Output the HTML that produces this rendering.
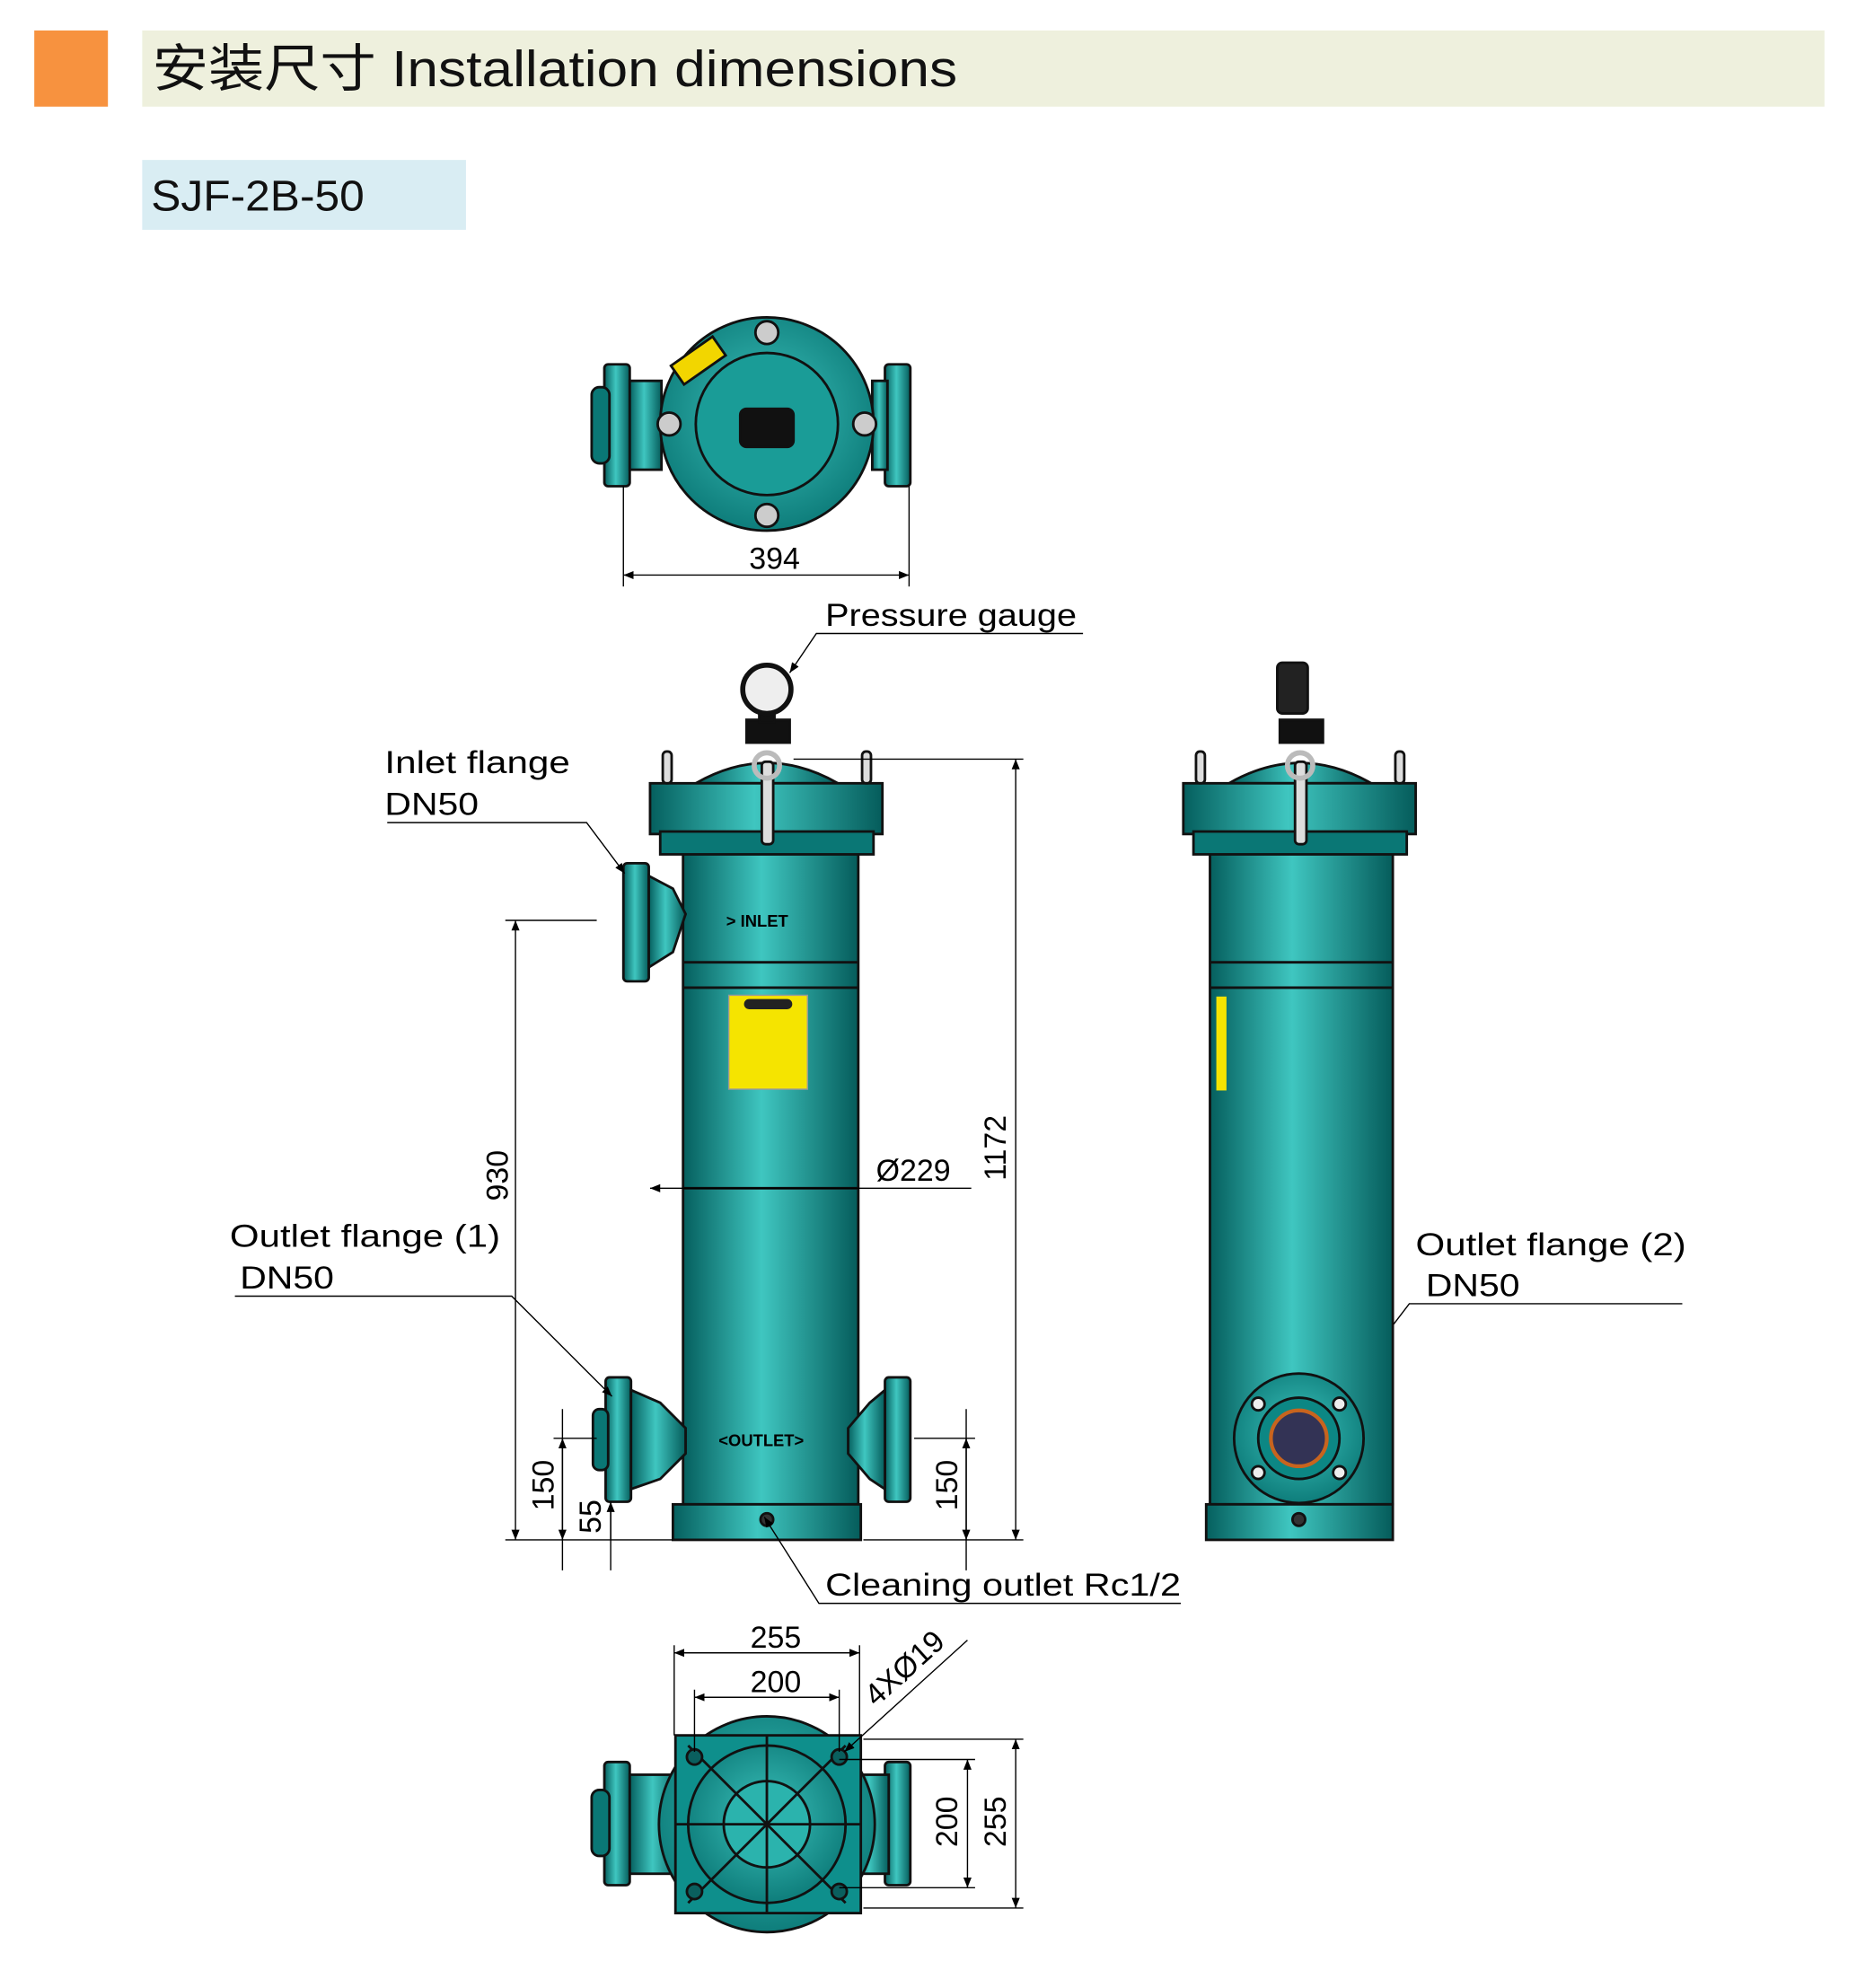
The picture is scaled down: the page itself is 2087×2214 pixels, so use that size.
<!DOCTYPE html>
<html><head><meta charset="utf-8"><style>
html,body{margin:0;padding:0;background:#fff;}
svg{display:block;}
text{font-family:"Liberation Sans","Noto Sans CJK SC",sans-serif;}
</style></head><body>
<svg width="2087" height="2214" viewBox="0 0 1476 1566" preserveAspectRatio="none" xmlns="http://www.w3.org/2000/svg">
<defs>
<linearGradient id="tg" x1="0" x2="1" y1="0" y2="0">
<stop offset="0" stop-color="#055f5e"/><stop offset="0.45" stop-color="#3fc6c0"/><stop offset="1" stop-color="#055c5b"/>
</linearGradient>
<radialGradient id="rg" cx="0.5" cy="0.45" r="0.6">
<stop offset="0" stop-color="#3cc2bc"/><stop offset="1" stop-color="#0a7775"/>
</radialGradient>
<marker id="ar" viewBox="0 0 10 10" refX="10" refY="5" markerWidth="8" markerHeight="8" orient="auto-start-reverse"><path d="M0,1 L10,5 L0,9 z" fill="#000"/></marker>
</defs>
<g stroke-width="1">
<rect x="27" y="24" width="58" height="60" fill="#f7923f"/>
<rect x="112" y="24" width="1325" height="60" fill="#eef0dd"/>
<text x="120" y="68" font-size="40" fill="#111" textLength="634" lengthAdjust="spacingAndGlyphs">安装尺寸 Installation dimensions</text>
<rect x="112" y="126" width="255" height="55" fill="#d9edf3"/>
<text x="119" y="166" font-size="34" fill="#111" textLength="168" lengthAdjust="spacingAndGlyphs">SJF-2B-50</text>

<!-- TOP VIEW -->
<g stroke="#111" stroke-width="2">
<rect x="476" y="287" width="20" height="96" rx="3" fill="url(#tg)"/>
<rect x="466" y="305" width="14" height="60" rx="6" fill="#0a7775"/>
<rect x="496" y="300" width="25" height="70" fill="url(#tg)"/>
<rect x="697" y="287" width="20" height="96" rx="3" fill="url(#tg)"/>
<rect x="687" y="300" width="12" height="70" fill="url(#tg)"/>
<circle cx="604" cy="334" r="84" fill="url(#rg)"/>
<circle cx="604" cy="334" r="56" fill="#1a9c97"/>
<rect x="583" y="322" width="42" height="30" rx="5" fill="#111"/>
<circle cx="604" cy="262" r="9" fill="#ccc"/><circle cx="604" cy="406" r="9" fill="#ccc"/>
<circle cx="527" cy="334" r="9" fill="#ccc"/><circle cx="681" cy="334" r="9" fill="#ccc"/>
<rect x="530" y="275" width="40" height="18" fill="#f2d600" transform="rotate(-35 550 284)"/>
</g>
<g stroke="#000" fill="none">
<line x1="491" y1="383" x2="491" y2="462"/><line x1="716" y1="383" x2="716" y2="462"/>
<line x1="491" y1="453" x2="716" y2="453" marker-start="url(#ar)" marker-end="url(#ar)"/>
</g>
<text x="610" y="448" font-size="24" text-anchor="middle">394</text>

<!-- FRONT VIEW -->
<g stroke="#111" stroke-width="2">
<rect x="538" y="672" width="138" height="513" fill="url(#tg)"/>
<line x1="538" y1="758" x2="676" y2="758"/><line x1="538" y1="778" x2="676" y2="778"/>
<line x1="538" y1="936" x2="676" y2="936"/>
<path d="M548 617 Q604 585 660 617 Z" fill="url(#tg)"/>
<rect x="512" y="617" width="183" height="40" fill="url(#tg)"/>
<rect x="520" y="655" width="168" height="18" fill="#0a7775"/>
<rect x="522" y="592" width="7" height="25" rx="3" fill="#ddd"/><rect x="679" y="592" width="7" height="25" rx="3" fill="#ddd"/>
<rect x="600" y="600" width="9" height="65" rx="3" fill="#ddd"/>
<circle cx="604" cy="603" r="10" fill="none" stroke="#bbb" stroke-width="4"/>
<rect x="588" y="567" width="34" height="18" fill="#111"/>
<rect x="598" y="555" width="12" height="14" fill="#111"/>
<circle cx="604" cy="543" r="19" fill="#eee" stroke-width="4"/>
<rect x="574" y="784" width="62" height="74" fill="#f5e400" stroke="#999" stroke-width="1"/>
<rect x="586" y="787" width="38" height="8" rx="4" fill="#222" stroke="none"/>
<rect x="491" y="680" width="20" height="93" rx="3" fill="url(#tg)"/>
<path d="M511 690 L530 700 L540 720 L530 750 L511 762 Z" fill="url(#tg)"/>
<rect x="477" y="1085" width="20" height="98" rx="3" fill="url(#tg)"/>
<rect x="467" y="1110" width="12" height="48" rx="5" fill="#0a7775"/>
<path d="M497 1095 L520 1105 L540 1125 L540 1145 L520 1165 L497 1173 Z" fill="url(#tg)"/>
<rect x="697" y="1085" width="20" height="98" rx="3" fill="url(#tg)"/>
<path d="M697 1095 L685 1105 L668 1125 L668 1145 L685 1165 L697 1173 Z" fill="url(#tg)"/>
<rect x="530" y="1185" width="148" height="28" fill="url(#tg)"/>
<circle cx="604" cy="1197" r="5" fill="#333"/>
</g>
<text x="572" y="730" font-size="13" font-weight="bold">&gt; INLET</text>
<text x="566" y="1139" font-size="13" font-weight="bold">&lt;OUTLET&gt;</text>

<g stroke="#000" fill="none">
<line x1="625" y1="598" x2="806" y2="598"/><line x1="680" y1="1213" x2="806" y2="1213"/>
<line x1="800" y1="598" x2="800" y2="1213" marker-start="url(#ar)" marker-end="url(#ar)"/>
<line x1="398" y1="725" x2="470" y2="725"/><line x1="398" y1="1213" x2="530" y2="1213"/>
<line x1="406" y1="725" x2="406" y2="1213" marker-start="url(#ar)" marker-end="url(#ar)"/>
<line x1="436" y1="1133" x2="470" y2="1133"/><line x1="443" y1="1110" x2="443" y2="1237"/>
<line x1="443" y1="1133" x2="443" y2="1213" marker-start="url(#ar)" marker-end="url(#ar)"/>
<line x1="481" y1="1183" x2="481" y2="1237"/>
<line x1="481" y1="1213" x2="481" y2="1183" marker-end="url(#ar)"/>
<line x1="720" y1="1133" x2="768" y2="1133"/><line x1="761" y1="1110" x2="761" y2="1237"/>
<line x1="761" y1="1133" x2="761" y2="1213" marker-start="url(#ar)" marker-end="url(#ar)"/>
<line x1="512" y1="936" x2="765" y2="936" marker-start="url(#ar)"/>
<polyline points="853,499 643,499 622,530" marker-end="url(#ar)"/>
<polyline points="305,648 462,648 492,688" marker-end="url(#ar)"/>
<polyline points="185,1021 403,1021 482,1100" marker-end="url(#ar)"/>
<polyline points="930,1263 645,1263 602,1195" marker-end="url(#ar)"/>
<polyline points="1325,1027 1110,1027 1058,1095" marker-end="url(#ar)"/>
</g>
<text x="650" y="493" font-size="25" textLength="198" lengthAdjust="spacingAndGlyphs">Pressure gauge</text>
<text x="303" y="609" font-size="25" textLength="146" lengthAdjust="spacingAndGlyphs">Inlet flange</text>
<text x="303" y="642" font-size="25" textLength="74" lengthAdjust="spacingAndGlyphs">DN50</text>
<text x="181" y="982" font-size="25" textLength="213" lengthAdjust="spacingAndGlyphs">Outlet flange (1)</text>
<text x="189" y="1015" font-size="25" textLength="74" lengthAdjust="spacingAndGlyphs">DN50</text>
<text x="650" y="1257" font-size="25" textLength="280" lengthAdjust="spacingAndGlyphs">Cleaning outlet Rc1/2</text>
<text x="1115" y="989" font-size="25" textLength="213" lengthAdjust="spacingAndGlyphs">Outlet flange (2)</text>
<text x="1123" y="1021" font-size="25" textLength="74" lengthAdjust="spacingAndGlyphs">DN50</text>
<text x="690" y="930" font-size="24">Ø229</text>
<text font-size="24" transform="translate(792,930) rotate(-90)">1172</text>
<text font-size="24" transform="translate(400,946) rotate(-90)">930</text>
<text font-size="24" transform="translate(436,1190) rotate(-90)">150</text>
<text font-size="24" transform="translate(473,1208) rotate(-90)">55</text>
<text font-size="24" transform="translate(754,1190) rotate(-90)">150</text>

<!-- SIDE VIEW -->
<g stroke="#111" stroke-width="2">
<rect x="953" y="672" width="144" height="513" fill="url(#tg)"/>
<line x1="953" y1="758" x2="1097" y2="758"/><line x1="953" y1="778" x2="1097" y2="778"/>
<path d="M968 617 Q1024 585 1080 617 Z" fill="url(#tg)"/>
<rect x="932" y="617" width="183" height="40" fill="url(#tg)"/>
<rect x="940" y="655" width="168" height="18" fill="#0a7775"/>
<rect x="942" y="592" width="7" height="25" rx="3" fill="#ddd"/><rect x="1099" y="592" width="7" height="25" rx="3" fill="#ddd"/>
<rect x="1020" y="600" width="9" height="65" rx="3" fill="#ddd"/>
<circle cx="1024" cy="603" r="10" fill="none" stroke="#bbb" stroke-width="4"/>
<rect x="1008" y="567" width="34" height="18" fill="#111"/>
<rect x="1006" y="522" width="24" height="40" rx="4" fill="#222"/>
<rect x="958" y="785" width="8" height="74" fill="#f5e400" stroke="none"/>
<rect x="950" y="1185" width="147" height="28" fill="url(#tg)"/>
<circle cx="1023" cy="1197" r="5" fill="#333"/>
<circle cx="1023" cy="1133" r="51" fill="url(#rg)"/>
<circle cx="1023" cy="1133" r="32" fill="#0c8784"/>
<circle cx="1023" cy="1133" r="22" fill="#335" stroke="#c8641e" stroke-width="3"/>
<circle cx="991" cy="1106" r="5" fill="#eee"/><circle cx="1055" cy="1106" r="5" fill="#eee"/>
<circle cx="991" cy="1160" r="5" fill="#eee"/><circle cx="1055" cy="1160" r="5" fill="#eee"/>
</g>

<!-- BOTTOM VIEW -->
<g stroke="#111" stroke-width="2">
<rect x="476" y="1388" width="20" height="97" rx="3" fill="url(#tg)"/>
<rect x="466" y="1410" width="14" height="52" rx="6" fill="#0a7775"/>
<rect x="496" y="1398" width="40" height="78" fill="url(#tg)"/>
<rect x="697" y="1388" width="20" height="97" rx="3" fill="url(#tg)"/>
<rect x="672" y="1398" width="28" height="78" fill="url(#tg)"/>
<circle cx="604" cy="1437" r="85" fill="url(#rg)"/>
<rect x="532" y="1367" width="146" height="140" fill="#0e8f8c"/>
<circle cx="604" cy="1437" r="62" fill="url(#rg)"/>
<circle cx="604" cy="1437" r="34" fill="#2bb3ad"/>
<line x1="542" y1="1375" x2="666" y2="1499"/><line x1="666" y1="1375" x2="542" y2="1499"/>
<line x1="604" y1="1367" x2="604" y2="1507"/><line x1="532" y1="1437" x2="678" y2="1437"/>
<circle cx="547" cy="1384" r="6" fill="#0a5f5e"/><circle cx="661" cy="1384" r="6" fill="#0a5f5e"/>
<circle cx="547" cy="1490" r="6" fill="#0a5f5e"/><circle cx="661" cy="1490" r="6" fill="#0a5f5e"/>
</g>
<g stroke="#000" fill="none">
<line x1="531" y1="1296" x2="531" y2="1367"/><line x1="677" y1="1296" x2="677" y2="1367"/>
<line x1="531" y1="1302" x2="677" y2="1302" marker-start="url(#ar)" marker-end="url(#ar)"/>
<line x1="547" y1="1331" x2="547" y2="1380"/><line x1="661" y1="1331" x2="661" y2="1380"/>
<line x1="547" y1="1337" x2="661" y2="1337" marker-start="url(#ar)" marker-end="url(#ar)"/>
<line x1="680" y1="1370" x2="806" y2="1370"/><line x1="680" y1="1503" x2="806" y2="1503"/>
<line x1="800" y1="1370" x2="800" y2="1503" marker-start="url(#ar)" marker-end="url(#ar)"/>
<line x1="661" y1="1386" x2="768" y2="1386"/><line x1="661" y1="1487" x2="768" y2="1487"/>
<line x1="762" y1="1386" x2="762" y2="1487" marker-start="url(#ar)" marker-end="url(#ar)"/>
<line x1="762" y1="1292" x2="665" y2="1380" marker-end="url(#ar)"/>
</g>
<text x="611" y="1298" font-size="24" text-anchor="middle">255</text>
<text x="611" y="1333" font-size="24" text-anchor="middle">200</text>
<text font-size="24" transform="translate(690,1345) rotate(-42)">4XØ19</text>
<text font-size="24" transform="translate(792,1455) rotate(-90)">255</text>
<text font-size="24" transform="translate(754,1455) rotate(-90)">200</text>
</g>
</svg>
</body></html>
